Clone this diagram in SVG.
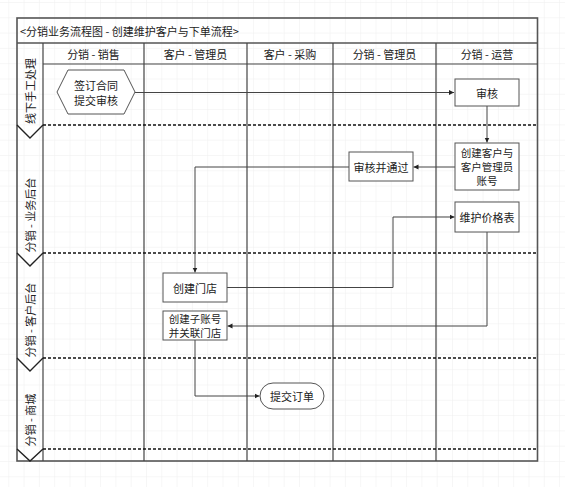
<svg xmlns="http://www.w3.org/2000/svg" width="565" height="487" viewBox="0 0 565 487">
<style>
text{font-family:"Noto Sans CJK SC","Liberation Sans",sans-serif;font-size:11px;fill:#222;}
.c{text-anchor:middle;dominant-baseline:central;}
.m{font-size:10.5px;}
.frame{fill:none;stroke:#555;stroke-width:1.6;}
.col{fill:none;stroke:#444;stroke-width:1.2;}
.dash{fill:none;stroke:#111;stroke-width:1.6;stroke-dasharray:3 2;}
.vee{fill:none;stroke:#222;stroke-width:1.4;}
.node{fill:#fff;stroke:#555;stroke-width:1;}
.conn{fill:none;stroke:#444;stroke-width:1;}
</style>
<defs>
<pattern id="grid" width="15.3" height="15.3" patternUnits="userSpaceOnUse" x="8.3" y="2">
<path d="M0 0H15.3M0 0V15.3" fill="none" stroke="#eeeeee" stroke-width="1"/>
</pattern>
<marker id="arr" markerWidth="6" markerHeight="6" refX="5" refY="3" orient="auto" markerUnits="userSpaceOnUse">
<path d="M0,0.5 L5,3 L0,5.5 Z" fill="#222"/>
</marker>
</defs>
<rect width="565" height="487" fill="#fff"/>
<rect width="565" height="487" fill="url(#grid)"/>
<g id="pool">
<rect x="17" y="18" width="520.5" height="443" fill="#fff" class="frame"/>
<line x1="17" y1="43" x2="537.5" y2="43" class="frame"/>
<line x1="43" y1="64" x2="537.5" y2="64" class="col"/>
<line x1="43" y1="43" x2="43" y2="461" class="col"/>
<line x1="144" y1="43" x2="144" y2="461" class="col"/>
<line x1="247" y1="43" x2="247" y2="461" class="col"/>
<line x1="333" y1="43" x2="333" y2="461" class="col"/>
<line x1="436" y1="43" x2="436" y2="461" class="col"/>
<text x="20" y="30.5" style="dominant-baseline:central">&lt;分销业务流程图 - 创建维护客户与下单流程&gt;</text>
<text x="93.5" y="54" class="c">分销 - 销售</text>
<text x="195.5" y="54" class="c">客户 - 管理员</text>
<text x="290" y="54" class="c">客户 - 采购</text>
<text x="384.5" y="54" class="c">分销 - 管理员</text>
<text x="487" y="54" class="c">分销 - 运营</text>
</g>
<g id="lanes">
<line x1="43" y1="125" x2="537" y2="125" class="dash"/>
<line x1="43" y1="253" x2="537" y2="253" class="dash"/>
<line x1="43" y1="358" x2="537" y2="358" class="dash"/>
<line x1="43" y1="449" x2="537" y2="449" class="dash"/>
<path d="M17 125L30 138L43 125" class="vee"/>
<path d="M17 253L30 266L43 253" class="vee"/>
<path d="M17 358L30 371L43 358" class="vee"/>
<path d="M17 449L30 461L43 449" class="vee"/>
<text class="c" transform="translate(30,91) rotate(-90)">线下手工处理</text>
<text class="c" transform="translate(30,215) rotate(-90)">分销 - 业务后台</text>
<text class="c" transform="translate(30,320) rotate(-90)">分销 - 客户后台</text>
<text class="c" transform="translate(30,420) rotate(-90)">分销 - 商城</text>
</g>
<g id="connectors">
<path d="M135 92.5H454" class="conn" marker-end="url(#arr)"/>
<path d="M487 106V142.5" class="conn" marker-end="url(#arr)"/>
<path d="M455 167H413.5" class="conn" marker-end="url(#arr)"/>
<path d="M349 167H195V272.5" class="conn" marker-end="url(#arr)"/>
<path d="M227 287.5H393V217H454.5" class="conn" marker-end="url(#arr)"/>
<path d="M487 232V326H227.5" class="conn" marker-end="url(#arr)"/>
<path d="M195 340V396H259.5" class="conn" marker-end="url(#arr)"/>
</g>
<g id="n-sign">
<polygon points="68,70 124,70 135,92 124,114 68,114 57,92" class="node"/>
<text x="96" y="85" class="c">签订合同</text>
<text x="96" y="99.5" class="c">提交审核</text>
</g>
<g id="n-audit">
<rect x="455" y="79" width="64" height="27" class="node"/>
<text x="487" y="92.5" class="c">审核</text>
</g>
<g id="n-create-customer">
<rect x="455" y="143" width="64" height="47" class="node"/>
<text x="487" y="152.5" class="c m">创建客户与</text>
<text x="487" y="166.5" class="c m">客户管理员</text>
<text x="487" y="180.5" class="c m">账号</text>
</g>
<g id="n-approve">
<rect x="349" y="152" width="64" height="29" class="node"/>
<text x="381" y="166.5" class="c">审核并通过</text>
</g>
<g id="n-price">
<rect x="455" y="202" width="64" height="30" class="node"/>
<text x="487" y="217" class="c">维护价格表</text>
</g>
<g id="n-store">
<rect x="163" y="273" width="64" height="29" class="node"/>
<text x="195" y="287.5" class="c">创建门店</text>
</g>
<g id="n-subaccount">
<rect x="163" y="311" width="64" height="29" class="node"/>
<text x="195" y="318.5" class="c m">创建子账号</text>
<text x="195" y="332.5" class="c m">并关联门店</text>
</g>
<g id="n-order">
<rect x="260" y="383" width="64" height="26" rx="13" ry="13" class="node"/>
<text x="292" y="396" class="c">提交订单</text>
</g>
</svg>
